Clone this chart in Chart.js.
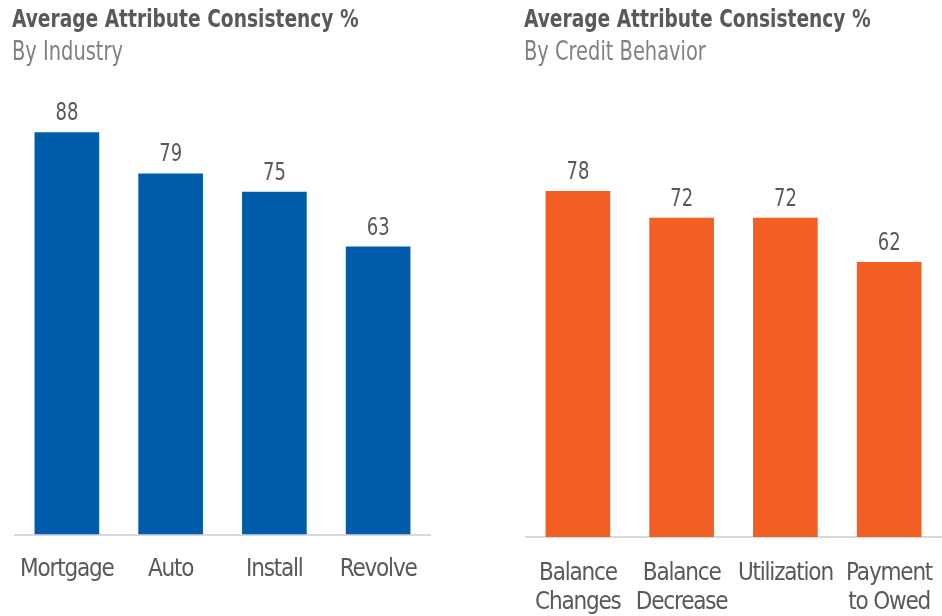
<!DOCTYPE html>
<html>
<head>
<meta charset="utf-8">
<script src="https://cdn.jsdelivr.net/npm/chart.js@4.4.1/dist/chart.umd.min.js"></script>
<style>
  html, body { margin: 0; padding: 0; background: #fff; }
  #wrap { position: relative; width: 942px; height: 616px; overflow: hidden; }
  canvas { position: absolute; top: 0; }
  .title { position: absolute; font-family: 'DejaVu Sans Condensed', 'Liberation Sans Narrow', sans-serif; font-weight: bold; font-size: 24px; line-height: 24px; color: #595959; white-space: nowrap; transform: scaleX(0.863); transform-origin: 0 0; }
  .sub { position: absolute; font-family: 'DejaVu Sans Condensed', 'Liberation Sans Narrow', sans-serif; font-size: 27px; line-height: 27px; color: #808080; white-space: nowrap; transform: scaleX(0.8); transform-origin: 0 0; }
</style>
</head>
<body>
<div id="wrap">
  <canvas id="c1" width="471" height="616" style="left:0px;"></canvas>
  <canvas id="c2" width="471" height="616" style="left:471px;"></canvas>
  <div class="title" id="t1" style="left:12px; top:6.5px;"></div>
  <div class="sub" id="s1" style="left:12px; top:36.5px;"></div>
  <div class="title" id="t2" style="left:524px; top:6.5px;"></div>
  <div class="sub" id="s2" style="left:524px; top:36.5px;"></div>
</div>
<script>
const chartTitle = 'Average Attribute Consistency %';
const industrySubtitle = 'By Industry';
const behaviorSubtitle = 'By Credit Behavior';
const industryCategories = ['Mortgage', 'Auto', 'Install', 'Revolve'];
const industryValues = [88, 79, 75, 63];
const behaviorCategories = [['Balance', 'Changes'], ['Balance', 'Decrease'], 'Utilization', ['Payment', 'to Owed']];
const behaviorValues = [78, 72, 72, 62];

document.getElementById('t1').textContent = chartTitle;
document.getElementById('s1').textContent = industrySubtitle;
document.getElementById('t2').textContent = chartTitle;
document.getElementById('s2').textContent = behaviorSubtitle;

const FONT = "'DejaVu Sans Condensed', 'Liberation Sans Narrow', sans-serif";

const condensedTicks = {
  id: 'condensedTicks',
  beforeUpdate(chart) { chart.ctx.letterSpacing = '-1.2px'; },
  beforeDraw(chart) { chart.ctx.letterSpacing = '-1.2px'; },
  afterDraw(chart) { chart.ctx.letterSpacing = '0px'; }
};

const valueLabels = {
  id: 'valueLabels',
  afterDatasetsDraw(chart) {
    const ctx = chart.ctx;
    const meta = chart.getDatasetMeta(0);
    const data = chart.data.datasets[0].data;
    ctx.save();
    ctx.letterSpacing = '0px';
    ctx.font = '25px ' + FONT;
    ctx.fillStyle = '#595959';
    ctx.textAlign = 'center';
    ctx.textBaseline = 'alphabetic';
    meta.data.forEach((bar, i) => {
      ctx.save();
      ctx.translate(bar.x, bar.y - 12);
      ctx.scale(0.8, 1);
      ctx.fillText(String(data[i]), 0, 0);
      ctx.restore();
    });
    ctx.restore();
  }
};

function makeChart(id, labels, values, color, pad, axisH, tickPad) {
  return new Chart(document.getElementById(id), {
    type: 'bar',
    data: {
      labels: labels,
      datasets: [{
        data: values,
        backgroundColor: color,
        borderWidth: 0,
        categoryPercentage: 1,
        barPercentage: 0.623
      }]
    },
    options: {
      responsive: false,
      animation: false,
      devicePixelRatio: 1,
      layout: { padding: pad },
      plugins: { legend: { display: false }, tooltip: { enabled: false }, title: { display: false } },
      scales: {
        x: {
          grid: { display: false },
          border: { display: true, color: '#d9d9d9', width: 2 },
          ticks: {
            color: '#595959',
            font: { family: FONT, size: 24, lineHeight: 1.21 },
            padding: tickPad,
            maxRotation: 0,
            autoSkip: false
          },
          afterFit(scale) { scale.height = axisH; scale.paddingLeft = 0; scale.paddingRight = 0; }
        },
        y: { display: false, min: 0, max: 100 }
      }
    },
    plugins: [condensedTicks, valueLabels]
  });
}

makeChart('c1', industryCategories, industryValues, '#005BAA', { left: 15, right: 41, top: 77.5, bottom: 0 }, 81.5, 13);
makeChart('c2', behaviorCategories, behaviorValues, '#F16022', { left: 55, right: 1, top: 93.5, bottom: 0 }, 79, 14);
</script>
</body>
</html>
